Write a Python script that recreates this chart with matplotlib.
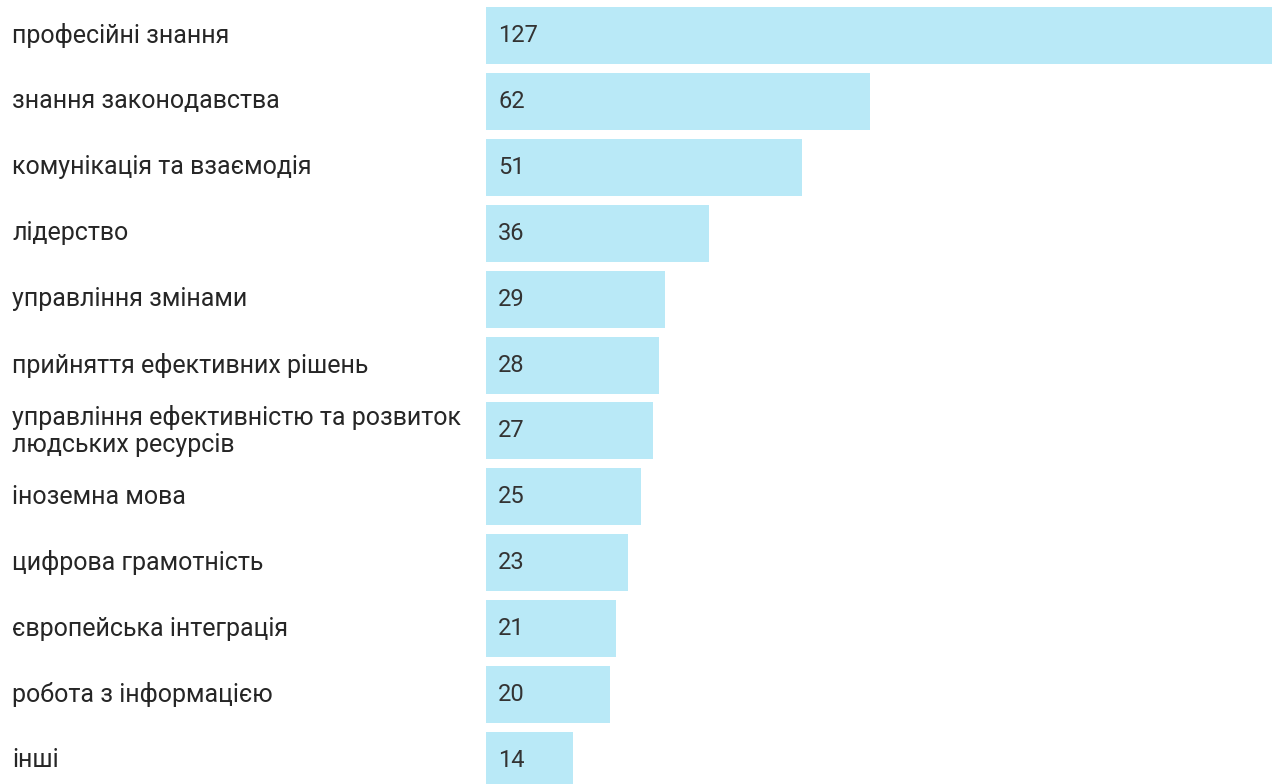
import matplotlib
matplotlib.use("Agg")
import matplotlib.pyplot as plt
from matplotlib.transforms import blended_transform_factory

categories = [
    "професійні знання",
    "знання законодавства",
    "комунікація та взаємодія",
    "лідерство",
    "управління змінами",
    "прийняття ефективних рішень",
    "управління ефективністю та розвиток\nлюдських ресурсів",
    "іноземна мова",
    "цифрова грамотність",
    "європейська інтеграція",
    "робота з інформацією",
    "інші",
]
values = [127, 62, 51, 36, 29, 28, 27, 25, 23, 21, 20, 14]

W, H = 1272, 784
fig = plt.figure(figsize=(W / 100, H / 100), dpi=100)
fig.patch.set_facecolor("white")

ax = fig.add_axes([486 / W, 0, 786 / W, 1])
pitch = 65.9
ypos = list(range(len(values)))
ax.barh(ypos, values, height=57 / pitch, color="#b9e9f7", edgecolor="none")
ax.set_xlim(0, max(values))
ax.set_ylim((H - 35.5) / pitch, -35.5 / pitch)
ax.axis("off")

trans_fig = blended_transform_factory(fig.transFigure, ax.transData)
for y, cat, v in zip(ypos, categories, values):
    fig.text(12 / W, y, cat, transform=trans_fig, ha="left", va="center",
             fontsize=18, color="#262626", family=["Roboto", "DejaVu Sans"],
             linespacing=1.2)
    ax.text(12 / 786, y, str(v), transform=blended_transform_factory(ax.transAxes, ax.transData),
            ha="left", va="center", fontsize=17, color="#333333",
            family=["Roboto", "DejaVu Sans"])

fig.savefig("out.png", dpi=100)
